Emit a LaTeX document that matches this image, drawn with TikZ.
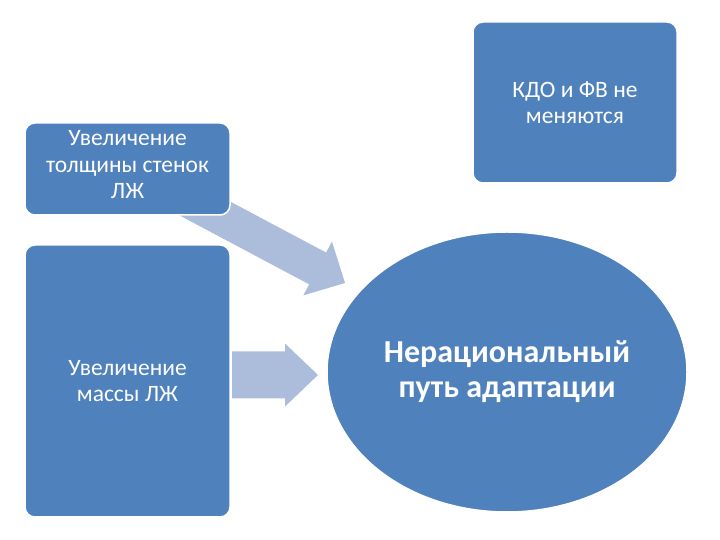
\documentclass[tikz,border=0pt]{standalone}
\usepackage{fontspec}
\setmainfont{Carlito}
\usepackage{tikz}
\usetikzlibrary{positioning, shapes.geometric}
\definecolor{boxblue}{RGB}{79, 129, 189}
\definecolor{arrowblue}{RGB}{172, 188, 219}

\begin{document}
\begin{tikzpicture}[x=1pt, y=1pt,
    box/.style={draw=white, line width=1.5pt, rounded corners=10pt, fill=boxblue,
                text=white, align=center, font=\fontsize{23.5}{26.5}\selectfont,
                inner sep=0pt},
    oval/.style={ellipse, draw=white, line width=1.5pt, fill=boxblue,
                 text=white, align=center, inner sep=0pt,
                 font=\fontsize{32}{35}\selectfont\bfseries},
    blockarrow/.style={fill=arrowblue}]
  \useasboundingbox (0, 0) rectangle (720, 540);
  % arrows go under the boxes
  \fill[blockarrow, shift={(345, 257)}, rotate=-28]
    (-190, -18) -- (-31, -18) -- (-31, -30.5) -- (0, 0)
    -- (-31, 30.5) -- (-31, 18) -- (-190, 18) -- cycle;
  \fill[blockarrow, shift={(318, 165)}]
    (-86, -23.5) -- (-33, -23.5) -- (-33, -31.5) -- (0, 0)
    -- (-33, 31.5) -- (-33, 23.5) -- (-86, 23.5) -- cycle;
  \node[box, minimum width=205, minimum height=92] (wall) at (127.5, 371)
        {Увеличение\\толщины стенок\\ЛЖ\rule[-9pt]{0pt}{0pt}};
  \node[box, minimum width=205, minimum height=272] (mass) at (127.5, 159)
        {Увеличение\\массы ЛЖ};
  \node[box, minimum width=204, minimum height=161] (kdo) at (575, 437.5)
        {КДО и ФВ не\\меняются};
  \node[oval, minimum width=360, minimum height=280] (path) at (507, 168)
        {Нерациональный\\путь адаптации};
\end{tikzpicture}
\end{document}
